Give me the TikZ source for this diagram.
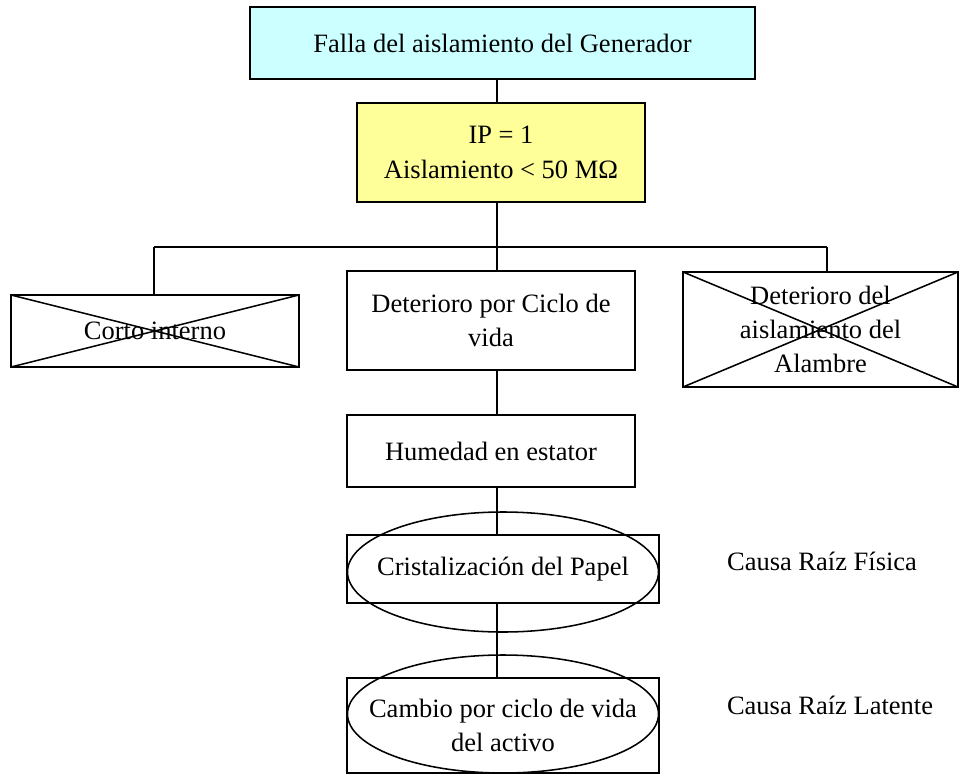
\documentclass[tikz,border=0pt]{standalone}
\usepackage{fontspec}
\setmainfont{Liberation Serif}
\usetikzlibrary{shapes.geometric}
\definecolor{cian}{HTML}{CCFFFF}
\definecolor{amarillo}{HTML}{FFFF99}
\tikzset{
	every node/.style={font=\fontsize{18.85}{22.4}\selectfont},
	caja/.style={draw, rectangle, align=center, inner sep=0pt, outer sep=0pt},
	ovalo/.style={draw, ellipse, inner sep=0pt, outer sep=0pt}
}
\begin{document}
\begin{tikzpicture}[line width=1.1pt]
		\useasboundingbox (0,0) rectangle (24,-19.375);

		\node[caja, fill=cian, minimum width=12.625cm, minimum height=1.8cm] (falla) at (12.5625,-1.075) {Falla del aislamiento del Generador};
		\node[caja, fill=amarillo, minimum width=7.2cm, minimum height=2.475cm] (ip) at (12.525,-3.8125) {IP = 1\\[3pt] Aislamiento < 50 MΩ};

		\node[caja, minimum width=7.2cm, minimum height=1.8cm] (corto) at (3.875,-8.275) {Corto interno};
		\node[caja, minimum width=7.2cm, minimum height=2.475cm] (deterioro) at (12.275,-8.0125) {Deterioro por Ciclo de\\[2pt] vida};
		\node[caja, minimum width=6.875cm, minimum height=2.875cm] (alambre) at (20.5125,-8.2375) {Deterioro del\\[2pt] aislamiento del\\[2pt] Alambre};

		\node[caja, minimum width=7.2cm, minimum height=1.8cm] (humedad) at (12.275,-11.275) {Humedad en estator};

		\node[caja, minimum width=7.8cm, minimum height=1.7cm] (cristal) at (12.575,-14.225) {Cristalización del Papel};
		\node[ovalo, minimum width=7.775cm, minimum height=3cm] (cristalov) at (12.575,-14.3) {};

		\node[caja, minimum width=7.8cm, minimum height=2.375cm] (cambio) at (12.575,-18.1375) {Cambio por ciclo de vida\\[2pt] del activo};
		\node[ovalo, minimum width=7.775cm, minimum height=2.95cm] (cambioov) at (12.575,-17.85) {};

		\node (fisica) at (20.55,-14.025) {Causa Raíz Física};
		\node (latente) at (20.75,-17.625) {Causa Raíz Latente};

		% cruces
		\draw (corto.north west) -- (corto.south east);
		\draw (corto.north east) -- (corto.south west);
		\draw (alambre.north west) -- (alambre.south east);
		\draw (alambre.north east) -- (alambre.south west);

		% ramas
		\coordinate (eje) at (12.425,0);
		\coordinate (ramaI) at (3.85,-6.175);
		\coordinate (ramaD) at (20.675,-6.175);

		\draw (eje |- falla.south) -- (eje |- ip.north);
		\draw (eje |- ip.south) -- (eje |- ramaI);
		\draw (ramaI) -- (ramaD);
		\draw (ramaI) -- (ramaI |- corto.north);
		\draw (ramaD) -- (ramaD |- alambre.north);
		\draw (eje |- ramaI) -- (eje |- deterioro.north);
		\draw (eje |- deterioro.south) -- (eje |- humedad.north);
		\draw (eje |- humedad.south) -- (eje |- cristal.north);
		\draw (eje |- cristal.south) -- (eje |- cambio.north);
	\end{tikzpicture}
\end{document}
